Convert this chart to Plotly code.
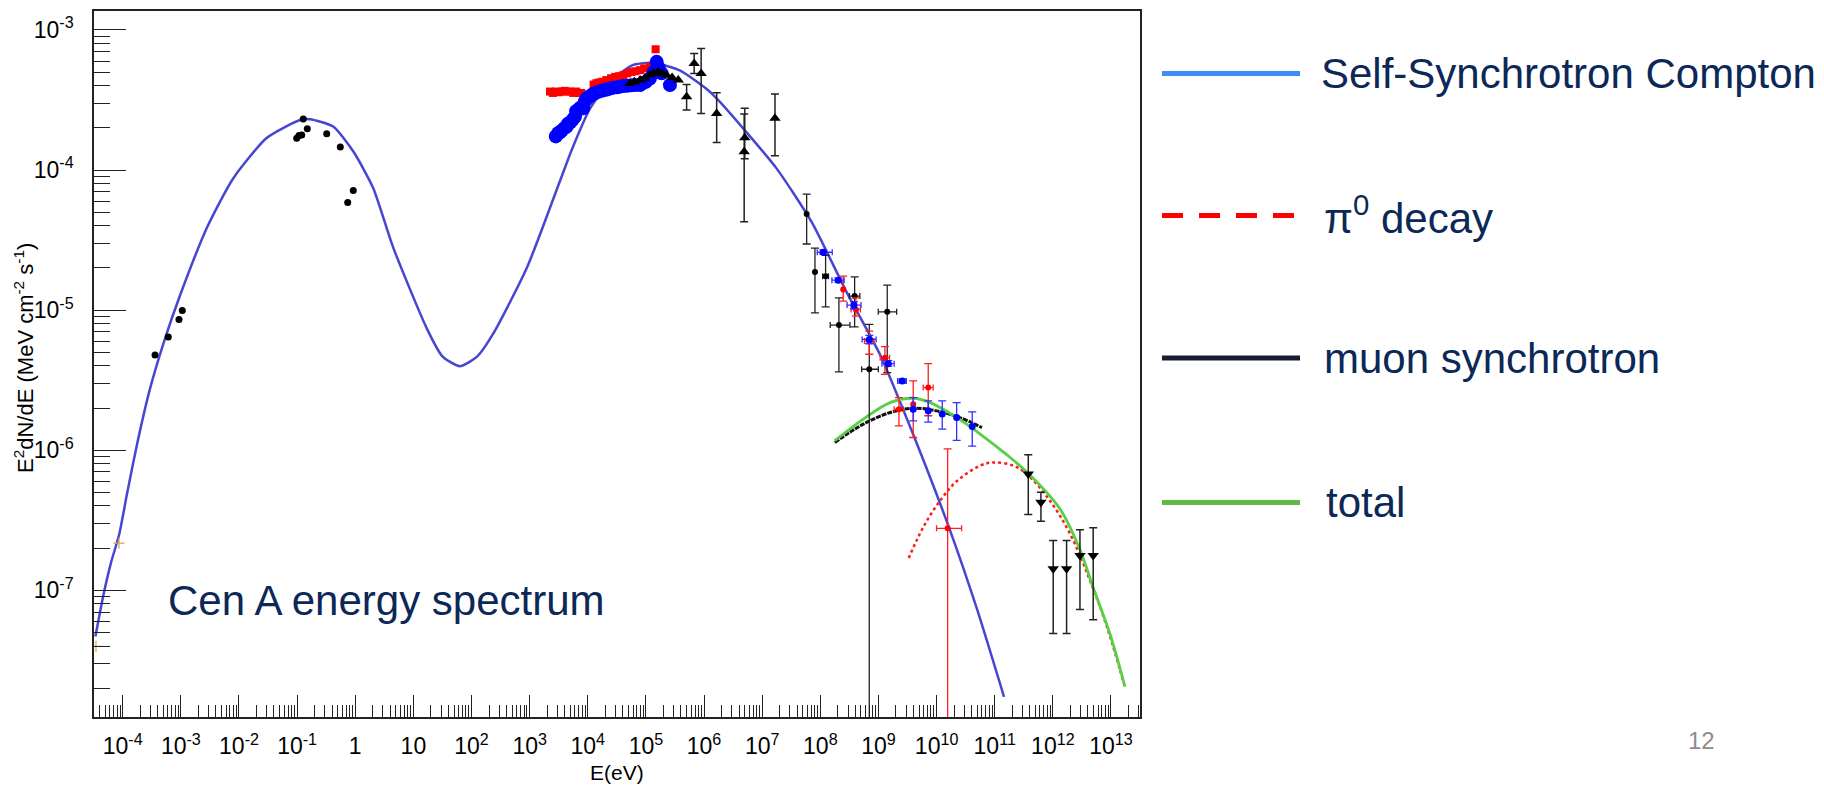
import plotly.graph_objects as go

# ---------------- data (log10 E [eV], log10 E^2 dN/dE [MeV cm^-2 s^-1]) ----------------
ssc_logE = [-4.47, -4.33, -4.20, -4.06, -3.93, -3.75, -3.53, -3.27, -3.01, -2.55, -2.10, -1.52,
            -0.95, -0.78, -0.38, -0.03, 0.31, 0.65, 1.23, 1.50, 1.80, 2.10, 2.37, 2.95, 3.52,
            3.72, 4.04, 4.38, 4.78, 5.13, 5.59, 6.04, 6.22, 6.73, 7.25, 7.85, 8.45, 9.03, 9.60,
            10.23, 10.70, 11.16]
ssc_logF = [-7.33, -7.03, -6.80, -6.60, -6.32, -5.95, -5.56, -5.20, -4.89, -4.41, -4.06, -3.77,
            -3.643, -3.638, -3.69, -3.87, -4.13, -4.55, -5.13, -5.33, -5.40, -5.33, -5.17, -4.70,
            -4.08, -3.86, -3.56, -3.37, -3.25, -3.235, -3.29, -3.42, -3.49, -3.73, -3.99, -4.37,
            -4.87, -5.32, -5.89, -6.57, -7.14, -7.76]

total_logE = [8.25, 8.74, 9.20, 9.60, 9.89, 10.35, 10.75, 11.20, 11.55, 12.12, 12.47, 12.69, 12.98, 13.24]
total_logF = [-5.932, -5.778, -5.66, -5.629, -5.66, -5.767, -5.885, -6.03, -6.155, -6.418, -6.715, -6.976, -7.308, -7.688]

pi0_logE = [9.52, 9.77, 10.06, 10.35, 10.75, 10.98, 11.32, 11.55, 11.95, 12.30, 12.64, 12.93, 13.24]
pi0_logF = [-6.77, -6.55, -6.36, -6.22, -6.11, -6.087, -6.11, -6.17, -6.36, -6.60, -6.93, -7.26, -7.69]

muon_logE = [8.25, 8.74, 9.20, 9.60, 10.00, 10.40, 10.78]
muon_logF = [-5.944, -5.814, -5.731, -5.70, -5.719, -5.767, -5.838]

# low-energy black points
lowE_logE = [-3.444, -3.216, -3.032, -2.975, -1.007, -0.968, -0.921, -0.894, -0.825, -0.491, -0.257, -0.130, -0.034]
lowE_logF = [-5.32, -5.192, -5.066, -5.002, -3.774, -3.754, -3.750, -3.636, -3.705, -3.742, -3.835, -4.231, -4.146]

# orange crosses
orange_logE = [-4.064, -4.46]
orange_logF = [-6.663, -7.40]

# blue X-ray cluster
xblue_logE = [3.45, 3.49, 3.52, 3.55, 3.60, 3.637, 3.66, 3.70, 3.74, 3.78, 3.80, 3.836, 3.87, 3.92, 3.95, 3.98,
              4.03, 4.08, 4.13, 4.18, 4.23, 4.28, 4.33, 4.38, 4.44, 4.50, 4.55, 4.61, 4.68, 4.75, 4.82, 4.90,
              4.95, 5.00, 5.069, 5.13, 5.185, 5.22, 5.27, 5.413]
xblue_logF = [-3.76, -3.738, -3.73, -3.72, -3.70, -3.69, -3.67, -3.66, -3.64, -3.62, -3.58, -3.57, -3.555,
              -3.56, -3.51, -3.489, -3.475, -3.46, -3.45, -3.441, -3.435, -3.43, -3.425, -3.418, -3.412,
              -3.41, -3.405, -3.40, -3.398, -3.395, -3.394, -3.394, -3.38, -3.37, -3.347, -3.30, -3.228,
              -3.27, -3.31, -3.394]

# red X-ray squares
xred_logE = [3.35, 3.40, 3.45, 3.50, 3.55, 3.60, 3.65, 3.70, 3.75, 3.80, 3.85, 3.89, 4.10, 4.15, 4.20, 4.25,
             4.32, 4.40, 4.47, 4.54, 4.61, 4.68, 4.75, 4.82, 4.90, 4.97, 5.07, 5.167]
xred_logF = [-3.44, -3.45, -3.44, -3.445, -3.44, -3.435, -3.44, -3.44, -3.45, -3.44, -3.45, -3.45, -3.39, -3.38,
             -3.375, -3.37, -3.358, -3.345, -3.335, -3.33, -3.323, -3.31, -3.30, -3.295, -3.287, -3.275, -3.263, -3.138]

# black triangles without errors
tri_logE = [4.726, 4.80, 4.90, 4.98, 5.07, 5.13, 5.21, 5.28, 5.356, 5.45, 5.556]
tri_logF = [-3.382, -3.37, -3.358, -3.345, -3.32, -3.31, -3.30, -3.31, -3.323, -3.34, -3.358]

# black triangles with errors
trie_logE = [5.70, 5.83, 5.95, 6.217, 6.70, 6.69, 7.22]
trie_logF = [-3.477, -3.24, -3.311, -3.596, -3.77, -3.87, -3.631]
trie_hi = [-3.389, -3.168, -3.133, -3.448, -3.56, -3.60, -3.458]
trie_lo = [-3.572, -3.311, -3.596, -3.804, -3.92, -4.37, -3.899]

# black points with errors (high energy)
bk_logE = [7.765, 7.908, 8.091, 8.32, 8.59, 8.842, 9.151]
bk_logF = [-4.314, -4.727, -4.758, -5.107, -4.90, -5.422, -5.012]
bk_hi = [-4.172, -4.557, -4.609, -4.912, -4.763, -5.102, -4.822]
bk_lo = [-4.528, -5.019, -4.977, -5.441, -5.119, -9.0, -5.446]
bk_xlo = [7.765, 7.908, 8.04, 8.17, 8.50, 8.711, 8.997]
bk_xhi = [7.765, 7.908, 8.14, 8.51, 8.68, 8.997, 9.313]

# blue points with errors
bl_logE = [8.05, 8.308, 8.578, 8.842, 9.169, 9.409, 9.598, 9.856, 10.097, 10.345, 10.613]
bl_logF = [-4.587, -4.786, -4.964, -5.209, -5.382, -5.505, -5.707, -5.719, -5.742, -5.767, -5.830]
bl_hi = [-4.57, -4.77, -4.94, -5.18, -5.36, -5.49, -5.624, -5.648, -5.648, -5.66, -5.726]
bl_lo = [-4.60, -4.80, -4.99, -5.24, -5.40, -5.52, -5.79, -5.80, -5.85, -5.93, -5.97]
bl_xlo = [7.947, 8.20, 8.46, 8.72, 9.06, 9.33, 9.598, 9.856, 10.097, 10.345, 10.613]
bl_xhi = [8.205, 8.41, 8.70, 8.96, 9.27, 9.48, 9.598, 9.856, 10.097, 10.345, 10.613]

# red points with errors
rd_logE = [8.394, 8.612, 8.842, 9.111, 9.352, 9.598, 9.856, 10.19]
rd_logF = [-4.853, -4.995, -5.221, -5.339, -5.707, -5.671, -5.553, -6.557]
rd_hi = [-4.758, -4.912, -5.15, -5.26, -5.624, -5.505, -5.382, -5.99]
rd_lo = [-4.936, -5.043, -5.315, -5.458, -5.826, -5.909, -5.754, -9.0]
rd_xlo = [8.394, 8.53, 8.76, 9.03, 9.27, 9.598, 9.77, 10.00]
rd_xhi = [8.394, 8.69, 8.92, 9.19, 9.43, 9.598, 9.94, 10.43]

# black down-triangles with errors (TeV)
tv_logE = [11.577, 11.795, 12.006, 12.236, 12.466, 12.694]
tv_logF = [-6.169, -6.371, -6.846, -6.846, -6.751, -6.751]
tv_hi = [-6.032, -6.30, -6.644, -6.644, -6.568, -6.554]
tv_lo = [-6.459, -6.507, -7.308, -7.308, -7.137, -7.209]

x_tick_exp = list(range(-4, 14))
x_tick_text = ["10<sup>-4</sup>", "10<sup>-3</sup>", "10<sup>-2</sup>", "10<sup>-1</sup>", "1", "10",
               "10<sup>2</sup>", "10<sup>3</sup>", "10<sup>4</sup>", "10<sup>5</sup>", "10<sup>6</sup>",
               "10<sup>7</sup>", "10<sup>8</sup>", "10<sup>9</sup>", "10<sup>10</sup>", "10<sup>11</sup>",
               "10<sup>12</sup>", "10<sup>13</sup>"]
y_tick_exp = [-7, -6, -5, -4, -3]
y_tick_text = ["10<sup>-7</sup>", "10<sup>-6</sup>", "10<sup>-5</sup>", "10<sup>-4</sup>", "10<sup>-3</sup>"]

legend_labels = ["Self-Synchrotron Compton", "π<sup>0</sup> decay", "muon synchrotron", "total"]
legend_colors = ["#3D8EF2", "#FF0000", "#161C30", "#62B94A"]
legend_dash = ["solid", "21px,16px", "solid", "solid"]

# ---------------- helpers ----------------
def pw(v):
    return [10 ** a for a in v]

def err_up(vals, hi):
    return [10 ** h - 10 ** v for v, h in zip(vals, hi)]

def err_dn(vals, lo):
    return [10 ** v - 10 ** l for v, l in zip(vals, lo)]

FONT = "Liberation Sans, Arial, Helvetica, sans-serif"
TXT = "#0C2857"

fig = go.Figure()

# model curves
fig.add_trace(go.Scatter(x=pw(ssc_logE), y=pw(ssc_logF), mode="lines", line=dict(color="#4646D2", width=2.5, shape="spline", smoothing=0.6), name="SSC"))
fig.add_trace(go.Scatter(x=pw(muon_logE), y=pw(muon_logF), mode="lines", line=dict(color="#111111", width=3, dash="5px,1px", shape="spline"), name="muon"))
fig.add_trace(go.Scatter(x=pw(pi0_logE), y=pw(pi0_logF), mode="lines", line=dict(color="#FF1A1A", width=2.5, dash="dot", shape="spline"), name="pi0"))
fig.add_trace(go.Scatter(x=pw(total_logE), y=pw(total_logF), mode="lines", line=dict(color="#58D045", width=2.8, shape="spline"), name="total"))

# data
fig.add_trace(go.Scatter(x=pw(lowE_logE), y=pw(lowE_logF), mode="markers", marker=dict(color="black", size=7)))
fig.add_trace(go.Scatter(x=pw(orange_logE), y=pw(orange_logF), mode="markers",
                         marker=dict(symbol="cross-thin", size=8, line=dict(color="#D9A35F", width=1.2))))
fig.add_trace(go.Scatter(x=pw(xred_logE), y=pw(xred_logF), mode="markers", marker=dict(symbol="square", color="#FF0000", size=8)))
fig.add_trace(go.Scatter(x=pw(xblue_logE), y=pw(xblue_logF), mode="markers", marker=dict(color="#0000FF", size=14)))
fig.add_trace(go.Scatter(x=pw(tri_logE), y=pw(tri_logF), mode="markers", marker=dict(symbol="triangle-up", color="black", size=10)))
fig.add_trace(go.Scatter(x=pw(trie_logE), y=pw(trie_logF), mode="markers",
                         marker=dict(symbol="triangle-up", color="black", size=10),
                         error_y=dict(type="data", array=err_up(trie_logF, trie_hi), arrayminus=err_dn(trie_logF, trie_lo),
                                      color="#222222", thickness=1.5, width=4)))
fig.add_trace(go.Scatter(x=pw(bk_logE), y=pw(bk_logF), mode="markers",
                         marker=dict(color="black", size=6),
                         error_y=dict(type="data", array=err_up(bk_logF, bk_hi), arrayminus=err_dn(bk_logF, bk_lo),
                                      color="#222222", thickness=1.3, width=4),
                         error_x=dict(type="data", array=err_up(bk_logE, bk_xhi), arrayminus=err_dn(bk_logE, bk_xlo),
                                      color="#222222", thickness=1.3, width=3)))
fig.add_trace(go.Scatter(x=pw(rd_logE), y=pw(rd_logF), mode="markers",
                         marker=dict(color="#FF0000", size=6),
                         error_y=dict(type="data", array=err_up(rd_logF, rd_hi), arrayminus=err_dn(rd_logF, rd_lo),
                                      color="#FF2020", thickness=1.3, width=4),
                         error_x=dict(type="data", array=err_up(rd_logE, rd_xhi), arrayminus=err_dn(rd_logE, rd_xlo),
                                      color="#FF2020", thickness=1.3, width=3)))
fig.add_trace(go.Scatter(x=pw(bl_logE), y=pw(bl_logF), mode="markers",
                         marker=dict(color="#0000FF", size=7),
                         error_y=dict(type="data", array=err_up(bl_logF, bl_hi), arrayminus=err_dn(bl_logF, bl_lo),
                                      color="#3030FF", thickness=1.3, width=4),
                         error_x=dict(type="data", array=err_up(bl_logE, bl_xhi), arrayminus=err_dn(bl_logE, bl_xlo),
                                      color="#3030FF", thickness=1.3, width=3)))
fig.add_trace(go.Scatter(x=pw(tv_logE), y=pw(tv_logF), mode="markers",
                         marker=dict(symbol="triangle-down", color="black", size=10),
                         error_y=dict(type="data", array=err_up(tv_logF, tv_hi), arrayminus=err_dn(tv_logF, tv_lo),
                                      color="#222222", thickness=1.5, width=4)))

# minor tick positions
x_minor = [k * 10 ** d for d in range(-5, 14) for k in range(2, 10)]
y_minor = [k * 10 ** d for d in range(-9, -2) for k in range(2, 10)]

axis_common = dict(type="log", showgrid=False, zeroline=False, showline=True, mirror=True,
                   linecolor="#222222", linewidth=1.6, ticks="inside", tickcolor="#222222",
                   tickfont=dict(family=FONT, size=23, color="black"), tickmode="array")

fig.update_layout(
    width=1824, height=785,
    margin=dict(l=94, r=684, t=9, b=68),
    paper_bgcolor="white", plot_bgcolor="white",
    showlegend=False,
    xaxis=dict(axis_common, range=[-4.494, 13.499],
               tickvals=pw(x_tick_exp), ticktext=x_tick_text, ticklen=22, tickwidth=1.2,
               ticklabelstandoff=8,
               minor=dict(tickmode="array", tickvals=x_minor, ticks="inside", ticklen=12, tickwidth=1, tickcolor="#222222", showgrid=False)),
    yaxis=dict(axis_common, range=[-7.904, -2.865],
               tickvals=pw(y_tick_exp), ticktext=y_tick_text, ticklen=32, tickwidth=1.2,
               ticklabelstandoff=14,
               minor=dict(tickmode="array", tickvals=y_minor, ticks="inside", ticklen=16, tickwidth=1, tickcolor="#222222", showgrid=False)),
)

ann = []
# axis titles
ann.append(dict(text="E<sup>2</sup>dN/dE (MeV cm<sup>-2</sup> s<sup>-1</sup>)", textangle=-90,
                xref="paper", yref="paper", x=(24 - 94) / 1046, y=(717 - 357) / 708,
                xanchor="center", yanchor="middle", showarrow=False,
                font=dict(family=FONT, size=22, color="black")))
ann.append(dict(text="E(eV)", xref="paper", yref="paper", x=0.5, y=(717 - 773) / 708,
                xanchor="center", yanchor="middle", showarrow=False,
                font=dict(family=FONT, size=21, color="black")))
# in-plot label
ann.append(dict(text="Cen A energy spectrum", xref="paper", yref="paper", x=(166 - 94) / 1046, y=(717 - 600) / 708,
                xanchor="left", yanchor="middle", showarrow=False,
                font=dict(family=FONT, size=42, color=TXT)))
# page number
ann.append(dict(text="12", xref="paper", yref="paper", x=(1701 - 94) / 1046, y=(717 - 741) / 708,
                xanchor="center", yanchor="middle", showarrow=False,
                font=dict(family=FONT, size=24, color="#8C8C8C")))

# custom legend
leg_y = [71.7, 214, 357, 502]
leg_tx = [1319, 1322, 1322, 1324]
shapes = []
for i, lab in enumerate(legend_labels):
    yp = (717 - leg_y[i]) / 708
    x1 = 1300 if legend_dash[i] == "solid" else 1296
    shapes.append(dict(type="line", xref="paper", yref="paper",
                       x0=(1162 - 94) / 1046, x1=(x1 - 94) / 1046, y0=yp, y1=yp,
                       line=dict(color=legend_colors[i], width=5, dash=legend_dash[i])))
    ann.append(dict(text=lab, xref="paper", yref="paper", x=(leg_tx[i] - 94) / 1046, y=yp,
                    xanchor="left", yanchor="middle", showarrow=False,
                    font=dict(family=FONT, size=42, color=TXT)))

fig.update_layout(annotations=ann, shapes=shapes)

fig.write_html("out.html")
